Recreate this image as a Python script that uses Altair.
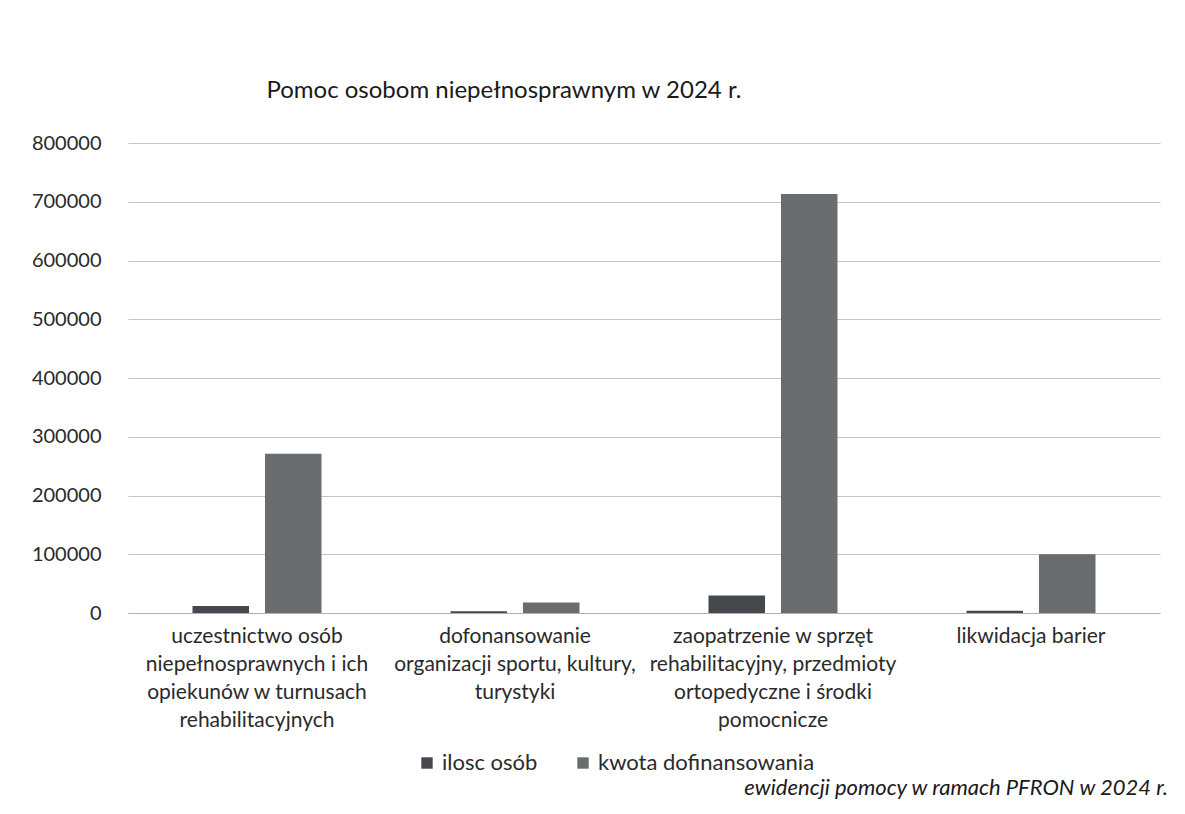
import altair as alt
import pandas as pd

categories = [
    "uczestnictwo osób\nniepełnosprawnych i ich\nopiekunów w turnusach\nrehabilitacyjnych",
    "dofonansowanie\norganizacji sportu, kultury,\nturystyki",
    "zaopatrzenie w sprzęt\nrehabilitacyjny, przedmioty\nortopedyczne i środki\npomocnicze",
    "likwidacja barier",
]
series_names = ["ilosc osób", "kwota dofinansowania"]
ilosc_osob = [12000, 3000, 30000, 4000]
kwota_dofinansowania = [271000, 18000, 713000, 100000]
y_ticks = [0, 100000, 200000, 300000, 400000, 500000, 600000, 700000, 800000]
colors = ["#45494d", "#6a6d70"]
FONT = "Lato"

rows = []
for c, a, b in zip(categories, ilosc_osob, kwota_dofinansowania):
    rows.append({"kategoria": c, "seria": series_names[0], "wartosc": a})
    rows.append({"kategoria": c, "seria": series_names[1], "wartosc": b})
df = pd.DataFrame(rows)

bars = alt.Chart(df).mark_bar().encode(
    x=alt.X("kategoria:N", sort=categories, title=None,
            scale=alt.Scale(paddingInner=0.5, paddingOuter=0.25),
            axis=alt.Axis(labelAngle=0, labelExpr="split(datum.label, '\\n')",
                          labelFontSize=21, labelFont=FONT, labelColor="#2a2a2a",
                          labelLineHeight=28, labelPadding=12, ticks=False,
                          domainColor="#b0b0b0", labelBaseline="top",
                          labelLimit=400)),
    xOffset=alt.XOffset("seria:N", sort=series_names,
                        scale=alt.Scale(paddingInner=0.22)),
    y=alt.Y("wartosc:Q", title=None,
            scale=alt.Scale(domain=[0, 800000], nice=False),
            axis=alt.Axis(values=y_ticks, format="d", labelFontSize=20,
                          labelFont=FONT, labelColor="#2a2a2a", labelPadding=27,
                          domain=False, ticks=False, gridColor="#c4c4c4",
                          gridWidth=1)),
    color=alt.Color("seria:N", sort=series_names,
                    scale=alt.Scale(domain=series_names, range=colors),
                    legend=alt.Legend(title=None, orient="none", legendX=288,
                                      legendY=609, direction="horizontal",
                                      symbolType="square", symbolSize=130,
                                      labelFontSize=22, labelFont=FONT,
                                      labelColor="#2a2a2a", columnPadding=34,
                                      labelLimit=400, symbolStrokeWidth=0)),
)

caption_df = pd.DataFrame({"t": ["ewidencji pomocy w ramach PFRON w 2024 r."]})
caption = alt.Chart(caption_df).mark_text(
    align="right", baseline="alphabetic", fontStyle="italic", fontSize=22,
    font=FONT, color="#1a1a1a"
).encode(x=alt.value(1040), y=alt.value(652), text="t:N")

chart = alt.layer(bars, caption).properties(
    width=1032,
    height=470,
    background="white",
    title=alt.TitleParams(
        "Pomoc osobom niepełnosprawnym w 2024 r.",
        anchor="start", dx=235, offset=30, fontSize=24, font=FONT,
        fontWeight="normal", color="#1a1a1a",
    ),
    autosize=alt.AutoSizeParams(type="none"),
    padding={"left": 120, "top": 135, "right": 17, "bottom": 190},
).configure_view(strokeWidth=0, stroke=None)

chart.save("out.html", embed_options={"renderer": "svg", "actions": False})
